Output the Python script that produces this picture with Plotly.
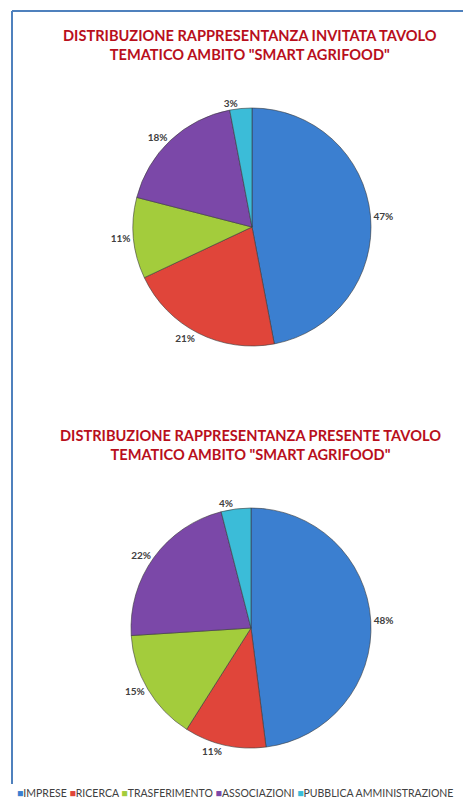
import plotly.graph_objects as go

W, H = 471, 800
OFF = 8  # la pagina html sposta il grafico di 8px (margine del body)

LABELS = ["IMPRESE", "RICERCA", "TRASFERIMENTO", "ASSOCIAZIONI", "PUBBLICA AMMINISTRAZIONE"]
COLORS = ["#3B7FD0", "#E0453A", "#A3CC3C", "#7B48A8", "#3BBCD8"]

INVITATA = [47, 21, 11, 18, 3]
PRESENTE = [48, 11, 15, 22, 4]

TITLE_1 = 'DISTRIBUZIONE RAPPRESENTANZA INVITATA TAVOLO<br>TEMATICO AMBITO "SMART AGRIFOOD"'
TITLE_2 = 'DISTRIBUZIONE RAPPRESENTANZA PRESENTE TAVOLO<br>TEMATICO AMBITO "SMART AGRIFOOD"'


def px_x(v):
    return min(max((v - OFF) / W, 0), 1)


def px_y(v):
    return min(max(1 - (v - OFF) / H, 0), 1)


def pie(values, cx, cy, r):
    return go.Pie(
        labels=LABELS,
        values=values,
        sort=False,
        direction="clockwise",
        rotation=0,
        marker=dict(colors=COLORS, line=dict(color="#3a3a3a", width=0.6)),
        texttemplate="%{percent:.0%}",
        textposition="outside",
        textfont=dict(family="Lato", size=10, color="#404040", weight="bold"),
        showlegend=False,
        hoverinfo="label+percent",
        domain=dict(x=[px_x(cx - r), px_x(cx + r)], y=[px_y(cy + r), px_y(cy - r)]),
    )


fig = go.Figure()
fig.add_trace(pie(INVITATA, 252, 227, 119))
fig.add_trace(pie(PRESENTE, 251, 628, 120))

title_font = dict(family="Lato", size=14.6, color="#B80F1C", weight="bold")
fig.add_annotation(text=TITLE_1, x=px_x(250), y=px_y(45), xref="paper", yref="paper",
                   xanchor="center", yanchor="middle",
                   showarrow=False, font=title_font, align="center")
fig.add_annotation(text=TITLE_2, x=px_x(250), y=px_y(445), xref="paper", yref="paper",
                   xanchor="center", yanchor="middle",
                   showarrow=False, font=title_font, align="center")

# legenda costruita a mano su una riga
legend_txt = " ".join(
    f"<span style='color:{c}'>■</span>{lab}" for lab, c in zip(LABELS, COLORS)
)
fig.add_annotation(text=legend_txt, x=px_x(15), y=px_y(793), xref="paper", yref="paper",
                   xanchor="left", yanchor="middle", showarrow=False,
                   font=dict(family="Lato", size=10.5, color="#404040"))

# bordo blu sinistro e superiore
border = dict(color="#4F81BD", width=2)
fig.add_shape(type="line", xref="paper", yref="paper",
              x0=px_x(12), x1=1, y0=px_y(11), y1=px_y(11), line=border)
fig.add_shape(type="line", xref="paper", yref="paper",
              x0=px_x(12), x1=px_x(12), y0=px_y(11), y1=px_y(784), line=border)

fig.update_layout(
    width=W, height=H,
    autosize=False,
    margin=dict(l=0, r=0, t=0, b=0),
    paper_bgcolor="white",
    plot_bgcolor="white",
)

fig.write_html("out.html")
